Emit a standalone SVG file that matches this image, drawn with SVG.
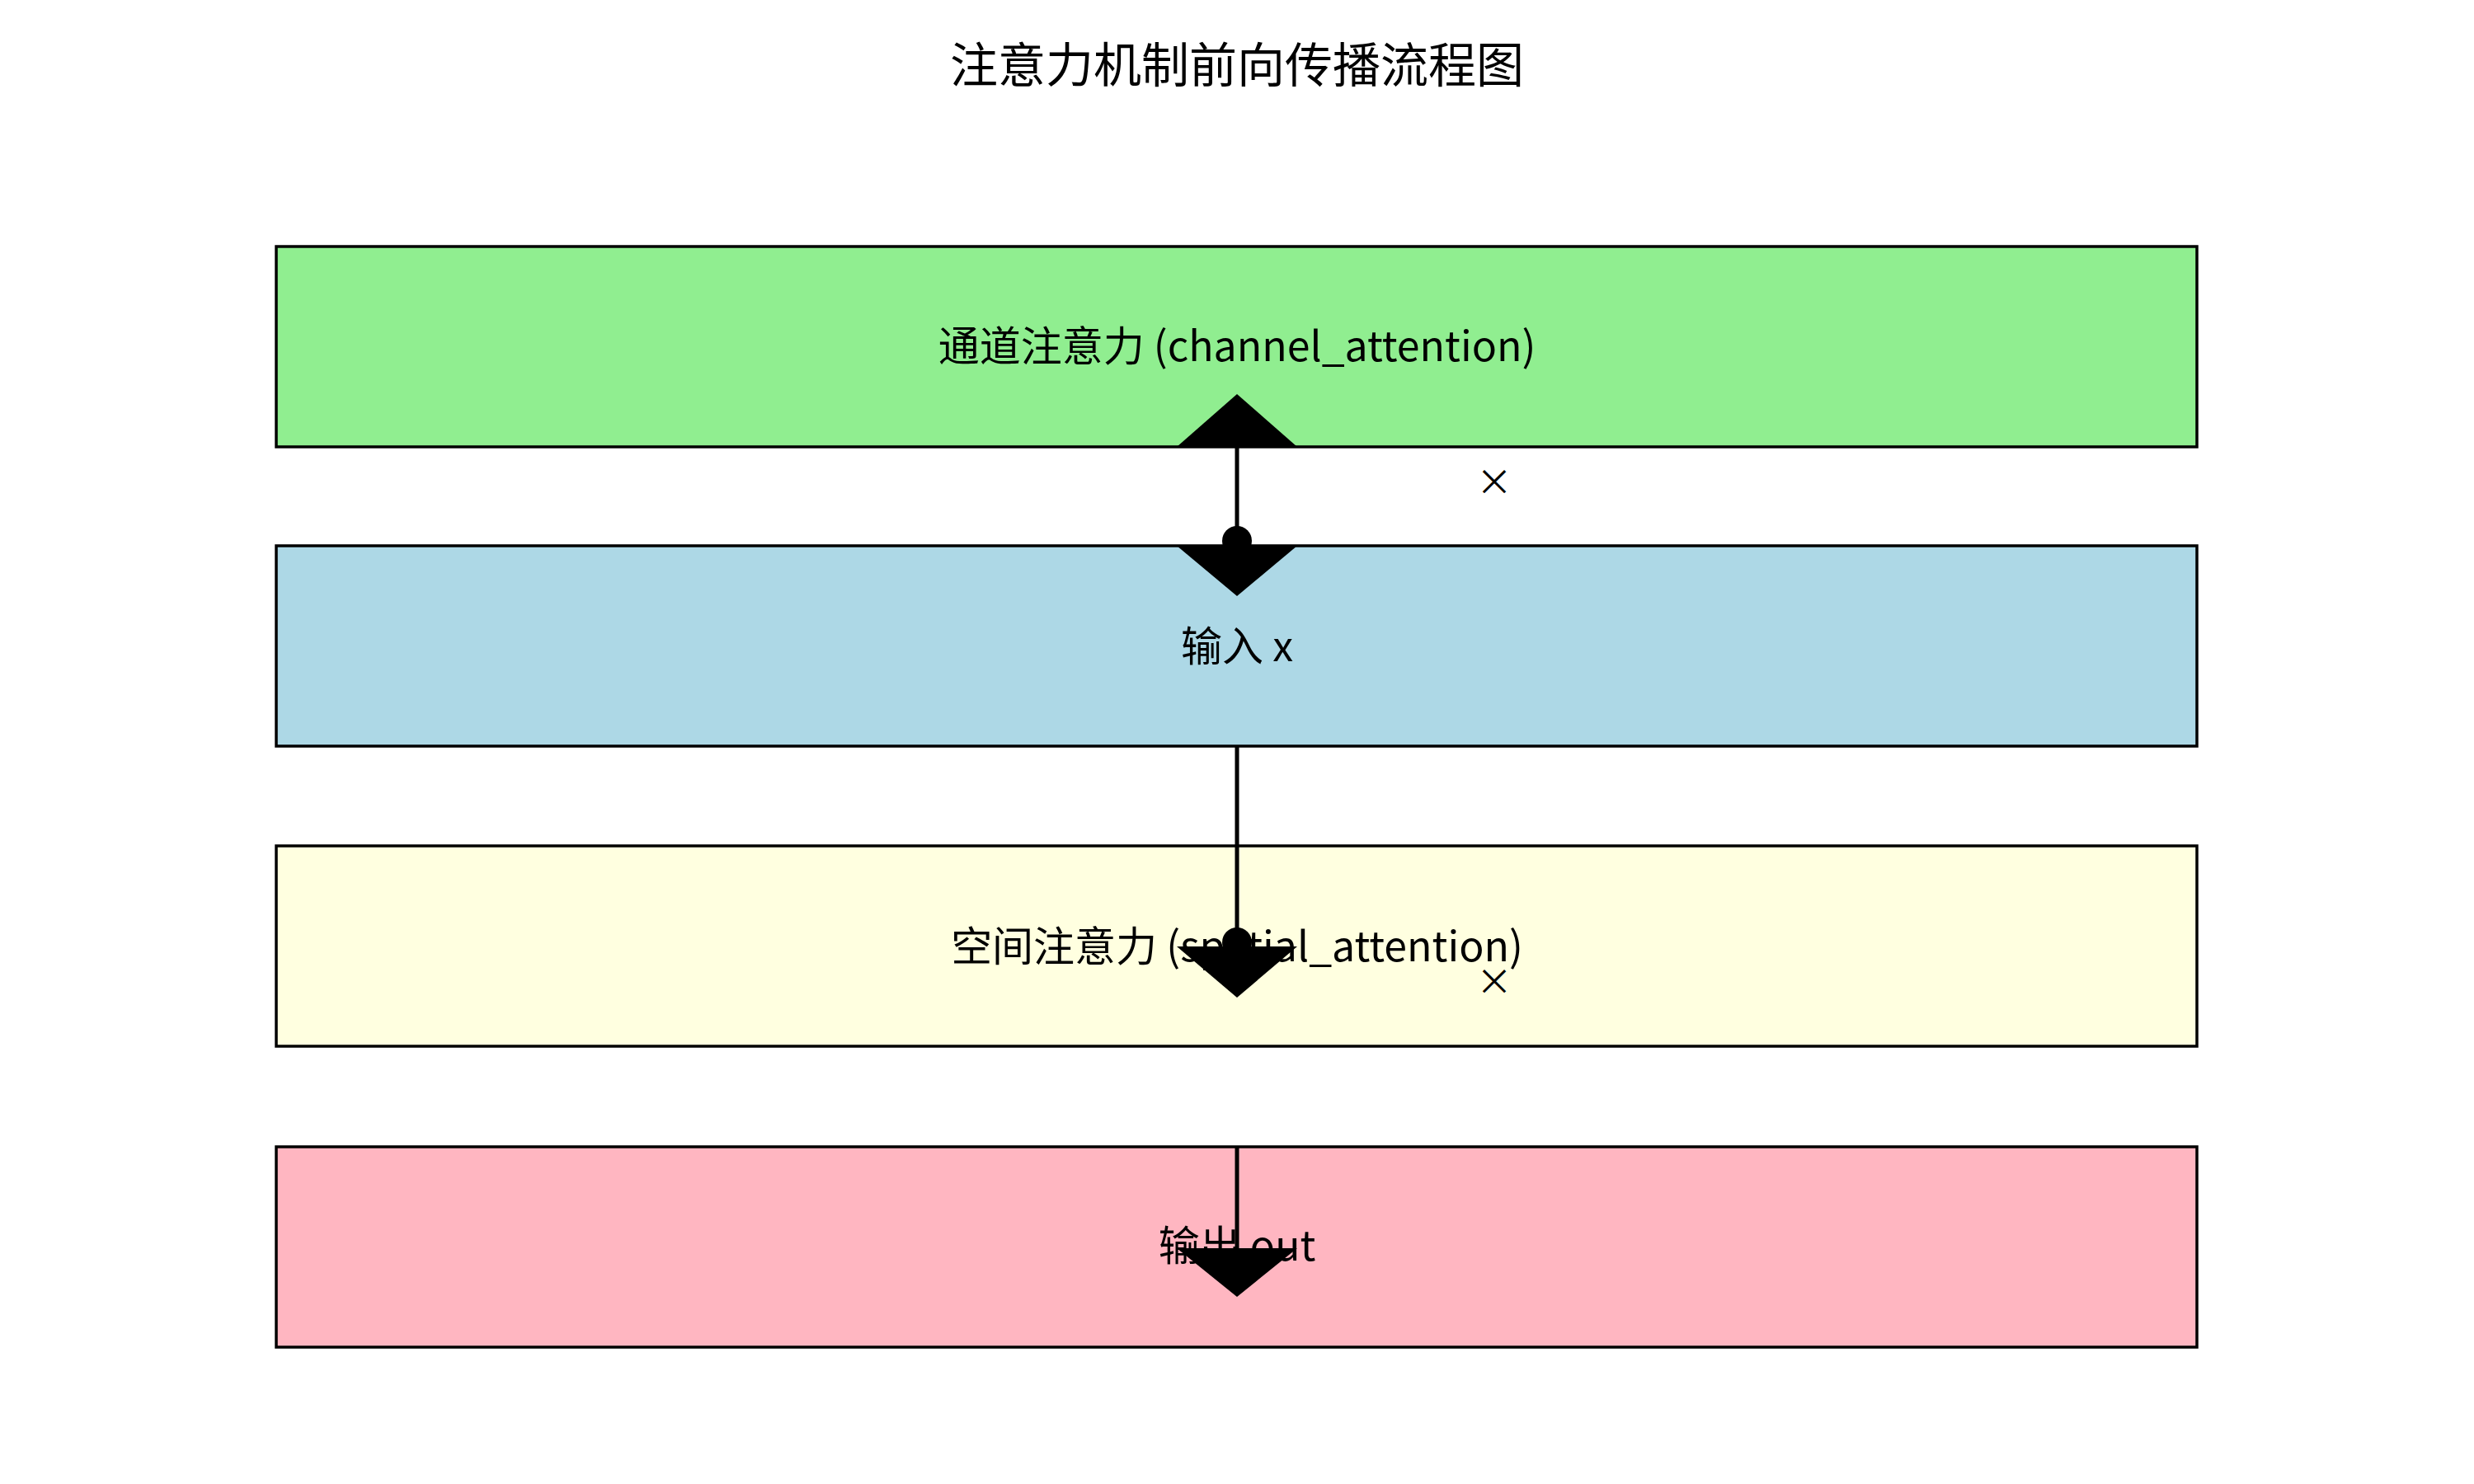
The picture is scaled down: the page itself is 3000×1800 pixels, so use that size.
<svg xmlns="http://www.w3.org/2000/svg" width="3000" height="1800" viewBox="0 0 3000 1800">
<style>
text{font-family:"Noto Sans CJK SC","Noto Sans",sans-serif;fill:#000;text-anchor:middle;dominant-baseline:central}
.box{stroke:#000;stroke-width:3.5}
.lbl{font-size:50px}
.edge{stroke:#000;stroke-width:5;fill:none}
.head{fill:#000}
</style>
<rect width="3000" height="1800" fill="#fff"/>
<text x="1500" y="75" font-size="58">注意力机制前向传播流程图</text>
<g id="channel_attention"><rect class="box" x="335" y="299" width="2329" height="243" fill="#90EE90"/><text class="lbl" x="1500" y="416">通道注意力 (channel_attention)</text></g>
<g id="input"><rect class="box" x="335" y="662" width="2329" height="243" fill="#ADD8E6"/><text class="lbl" x="1500" y="780">输入 x</text></g>
<g id="spatial_attention"><rect class="box" x="335" y="1026" width="2329" height="243" fill="#FFFFE0"/><text class="lbl" x="1500" y="1144">空间注意力 (spatial_attention)</text></g>
<g id="output"><rect class="box" x="335" y="1391" width="2329" height="243" fill="#FFB6C1"/><text class="lbl" x="1500" y="1507">输出 out</text></g>
<g id="connectors">
<line class="edge" x1="1500" y1="656" x2="1500" y2="542"/>
<polygon class="head" points="1427,542 1573,542 1500,478"/>
<circle class="head" cx="1500" cy="656" r="18"/>
<polygon class="head" points="1427,662 1573,662 1500,723"/>
<text x="1812" y="582" font-size="44">×</text>
<line class="edge" x1="1500" y1="905" x2="1500" y2="1143"/>
<circle class="head" cx="1500" cy="1143" r="18"/>
<polygon class="head" points="1427,1148 1573,1148 1500,1210"/>
<text x="1812" y="1188" font-size="44">×</text>
<line class="edge" x1="1500" y1="1391" x2="1500" y2="1514"/>
<polygon class="head" points="1427,1514 1573,1514 1500,1573"/>
</g>
</svg>
